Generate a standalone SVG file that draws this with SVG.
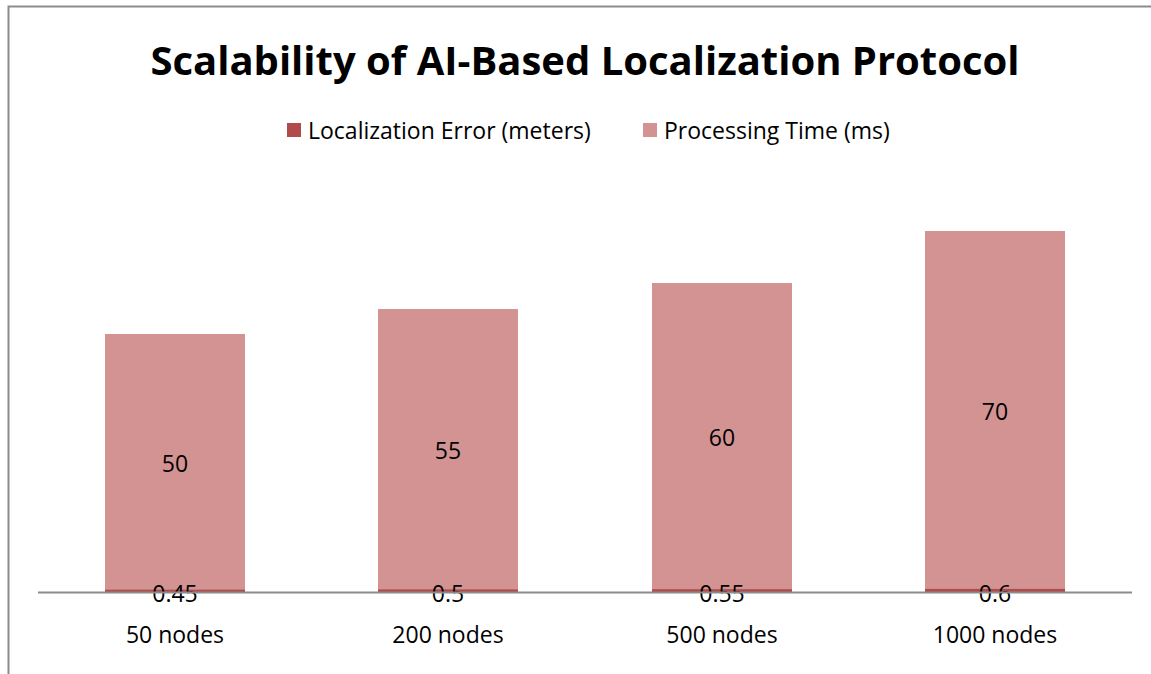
<svg xmlns="http://www.w3.org/2000/svg" width="1151" height="674" viewBox="0 0 1151 674">
<style>
text{font-family:"Open Sans","Liberation Sans",sans-serif;fill:#000}
.t{font-size:40px;font-weight:bold}
.l{font-size:23px}
.d{font-size:23px}
.err{fill:#B14B4B}
.pt{fill:#D39392}
</style>
<rect width="1151" height="674" fill="#fff"/>
<path d="M8.5 674V6.5H1151" fill="none" stroke="#8c8c8c" stroke-width="2"/>
<text class="t" x="585" y="75" text-anchor="middle">Scalability of AI-Based Localization Protocol</text>
<g id="legend">
<rect class="err" x="287" y="123" width="14" height="14"/>
<text class="l" x="308" y="139">Localization Error (meters)</text>
<rect class="pt" x="643" y="123" width="14" height="14"/>
<text class="l" x="664" y="139">Processing Time (ms)</text>
</g>
<g id="bar-50">
<rect class="pt" x="105" y="334" width="140" height="256"/>
<rect class="err" x="105" y="589.7" width="140" height="2.3"/>
<text class="d" x="175" y="472" text-anchor="middle">50</text>
<text class="d" x="175" y="602" text-anchor="middle">0.45</text>
<text class="d" x="175" y="643" text-anchor="middle">50 nodes</text>
</g>
<g id="bar-200">
<rect class="pt" x="378" y="309" width="140" height="281"/>
<rect class="err" x="378" y="589.4" width="140" height="2.6"/>
<text class="d" x="448" y="459" text-anchor="middle">55</text>
<text class="d" x="448" y="602" text-anchor="middle">0.5</text>
<text class="d" x="448" y="643" text-anchor="middle">200 nodes</text>
</g>
<g id="bar-500">
<rect class="pt" x="652" y="283" width="140" height="307"/>
<rect class="err" x="652" y="589.2" width="140" height="2.8"/>
<text class="d" x="722" y="446" text-anchor="middle">60</text>
<text class="d" x="722" y="602" text-anchor="middle">0.55</text>
<text class="d" x="722" y="643" text-anchor="middle">500 nodes</text>
</g>
<g id="bar-1000">
<rect class="pt" x="925" y="231" width="140" height="359"/>
<rect class="err" x="925" y="588.9" width="140" height="3.1"/>
<text class="d" x="995" y="420" text-anchor="middle">70</text>
<text class="d" x="995" y="602" text-anchor="middle">0.6</text>
<text class="d" x="995" y="643" text-anchor="middle">1000 nodes</text>
</g>
<g id="connectors">
<line x1="38" y1="592.5" x2="1132" y2="592.5" stroke="#8c8c8c" stroke-width="2"/>
</g>
</svg>
